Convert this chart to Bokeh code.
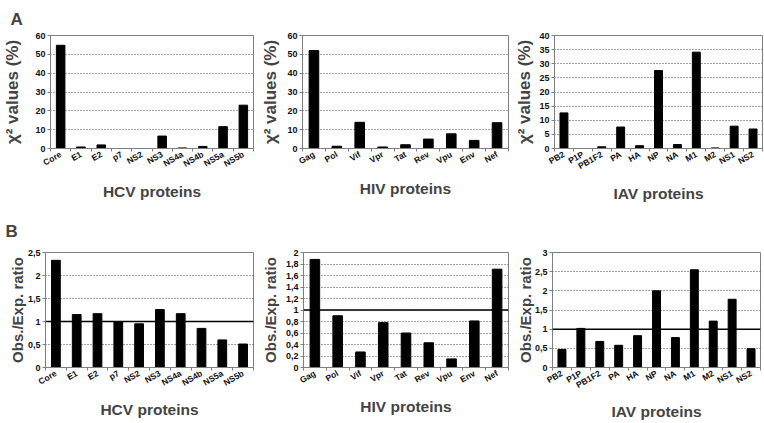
from bokeh.plotting import figure
from bokeh.layouts import row, column
from bokeh.models import FixedTicker, CustomJSTickFormatter, Span
from bokeh.embed import file_html
from bokeh.resources import INLINE

# ---------------- data ----------------
hcv_cats = ["Core", "E1", "E2", "p7", "NS2", "NS3", "NS4a", "NS4b", "NS5a", "NS5b"]
hiv_cats = ["Gag", "Pol", "Vif", "Vpr", "Tat", "Rev", "Vpu", "Env", "Nef"]
iav_cats = ["PB2", "P1P", "PB1F2", "PA", "HA", "NP", "NA", "M1", "M2", "NS1", "NS2"]

hcv_chi2 = [54.8, 0.8, 1.9, 0.0, 0.0, 6.6, 0.3, 1.1, 11.6, 23.0]
hiv_chi2 = [52.0, 1.2, 13.9, 0.8, 2.0, 5.0, 7.8, 4.3, 13.7]
iav_chi2 = [12.6, 0.0, 0.6, 7.6, 1.0, 27.6, 1.4, 34.1, 0.2, 7.9, 6.9]

hcv_ratio = [2.33, 1.15, 1.17, 1.00, 0.95, 1.26, 1.17, 0.85, 0.60, 0.51]
hiv_ratio = [1.88, 0.90, 0.27, 0.78, 0.60, 0.43, 0.15, 0.81, 1.71]
iav_ratio = [0.47, 1.02, 0.68, 0.58, 0.83, 2.00, 0.78, 2.55, 1.21, 1.78, 0.49]

chi2_ticks_hcv = [0, 10, 20, 30, 40, 50, 60]
chi2_ticks_hiv = [0, 10, 20, 30, 40, 50, 60]
chi2_ticks_iav = [0, 5, 10, 15, 20, 25, 30, 35, 40]
ratio_ticks_hcv = [0, 0.5, 1, 1.5, 2, 2.5]
ratio_ticks_hiv = [0, 0.2, 0.4, 0.6, 0.8, 1, 1.2, 1.4, 1.6, 1.8, 2]
ratio_ticks_iav = [0, 0.5, 1, 1.5, 2, 2.5, 3]

chi2_label = "\u03c7\u00b2 values (%)"
ratio_label = "Obs./Exp. ratio"
ref_level = 1

FONT = "Liberation Sans"
GREY = "#7f7f7f"


def panel(cats, vals, yticks, ylabel, xlabel, letter, ref,
          bl, fw, br, bt, fh, bb, ylab_standoff, xlab_standoff, ylab_size,
          letter_standoff=12):
    n = len(cats)
    xs = list(range(n))
    p = figure(width=bl + fw + br, height=bt + fh + bb,
               x_range=(-0.5, n - 0.5), y_range=(yticks[0], yticks[-1]),
               min_border_left=bl, min_border_right=br,
               min_border_top=bt, min_border_bottom=bb,
               output_backend="svg", toolbar_location=None)
    p.vbar(x=xs, top=vals, width=0.42, color="black")
    if ref is not None:
        p.add_layout(Span(location=ref, dimension="width",
                          line_color="black", line_width=1.5))
    p.outline_line_color = GREY
    p.background_fill_color = "white"
    p.border_fill_color = "white"
    p.xgrid.grid_line_color = None
    p.ygrid.grid_line_color = "#444444"
    p.ygrid.grid_line_dash = "1 2"
    p.ygrid.grid_line_width = 1

    xa = p.xaxis[0]
    xa.ticker = FixedTicker(ticks=xs, minor_ticks=[i - 0.5 for i in range(n + 1)])
    xa.formatter = CustomJSTickFormatter(args=dict(cats=cats),
                                         code="return cats[Math.round(tick)] || '';")
    xa.major_tick_line_color = None
    xa.major_tick_out = 0
    xa.minor_tick_line_color = GREY
    xa.minor_tick_out = 3
    xa.minor_tick_in = 0
    xa.axis_line_color = GREY
    xa.major_label_orientation = 0.52
    xa.major_label_standoff = 2
    xa.major_label_text_font = FONT
    xa.major_label_text_font_style = "bold"
    xa.major_label_text_font_size = "8.5px"
    xa.major_label_text_color = "#111111"
    xa.axis_label = xlabel
    xa.axis_label_text_font = FONT
    xa.axis_label_text_font_style = "bold"
    xa.axis_label_text_font_size = "15.5px"
    xa.axis_label_standoff = xlab_standoff

    ya = p.yaxis[0]
    ya.ticker = FixedTicker(ticks=yticks)
    ya.formatter = CustomJSTickFormatter(
        code="return (Math.round(tick*10)/10).toString().replace('.', ',');")
    ya.major_tick_line_color = GREY
    ya.major_tick_out = 3
    ya.major_tick_in = 0
    ya.minor_tick_line_color = None
    ya.axis_line_color = GREY
    ya.major_label_standoff = 2
    ya.major_label_text_font = FONT
    ya.major_label_text_font_style = "bold"
    ya.major_label_text_font_size = "9px"
    ya.major_label_text_color = "#111111"
    ya.axis_label = ylabel
    ya.axis_label_text_font = FONT
    ya.axis_label_text_font_style = "bold"
    ya.axis_label_text_font_size = ylab_size
    ya.axis_label_standoff = ylab_standoff

    if letter:
        p.title.text = letter
        p.title.align = "left"
        p.title.offset = 5 - bl
        p.title.text_font = FONT
        p.title.text_font_style = "bold"
        p.title.text_font_size = "17px"
        p.title.standoff = letter_standoff
    return p


FH = 115
a1 = panel(hcv_cats, hcv_chi2, chi2_ticks_hcv, chi2_label, "HCV proteins", "A", None,
           45, 208, 5, 34, FH, 56, 10, 7, "17px", 14)
a2 = panel(hiv_cats, hiv_chi2, chi2_ticks_hiv, chi2_label, "HIV proteins", None, None,
           39, 211, 4, 34, FH, 56, 4, 7, "17px")
a3 = panel(iav_cats, iav_chi2, chi2_ticks_iav, chi2_label, "IAV proteins", None, None,
           37, 213, 2, 34, FH, 56, 2, 7, "17px")

b1 = panel(hcv_cats, hcv_ratio, ratio_ticks_hcv, ratio_label, "HCV proteins", "B", ref_level,
           45, 208, 5, 47, FH, 56, -1, 6, "15px", 23)
b2 = panel(hiv_cats, hiv_ratio, ratio_ticks_hiv, ratio_label, "HIV proteins", None, ref_level,
           45, 205, 4, 47, FH, 56, 4, 6, "15px")
b3 = panel(iav_cats, iav_ratio, ratio_ticks_iav, ratio_label, "IAV proteins", None, ref_level,
           40, 208, 4, 47, FH, 56, -2, 6, "15px")

layout = column(row(a1, a2, a3, spacing=0), row(b1, b2, b3, spacing=0), spacing=0)

with open("out.html", "w") as f:
    f.write(file_html(layout, INLINE))
